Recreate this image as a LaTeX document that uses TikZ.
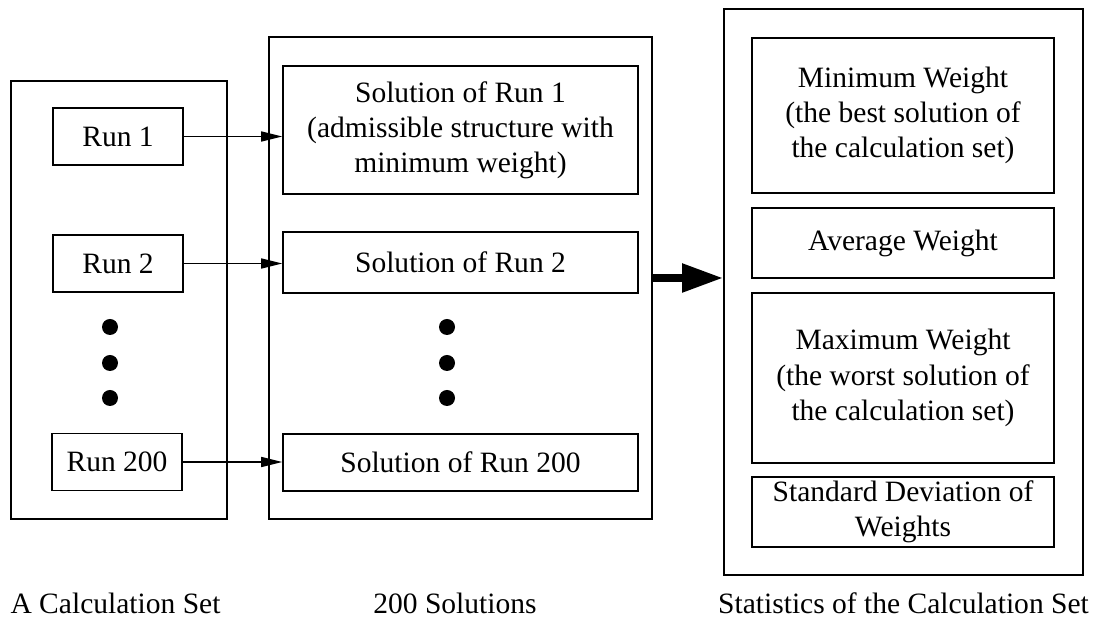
\documentclass[tikz,border=0pt]{standalone}
\usepackage{fontspec}
\setmainfont{Liberation Serif}
\usetikzlibrary{arrows.meta}

\begin{document}
\begin{tikzpicture}[
  box/.style={draw, line width=0.9pt, inner sep=0pt, align=center,
    font=\fontsize{16.8}{20}\selectfont},
  frame/.style={draw, line width=0.9pt, inner sep=0pt},
  link/.style={line width=0.9pt, -{Triangle[length=0.42cm,width=0.2cm]}},
  settext/.style={anchor=base, font=\fontsize{16.8}{20}\selectfont}
]

  \useasboundingbox (0,0) rectangle (21.96,12.42);

  % Outer frames
  \node[frame, minimum width=4.32cm, minimum height=8.76cm] (set) at (2.38,6.42) {};
  \node[frame, minimum width=7.66cm, minimum height=9.64cm] (sols) at (9.21,6.86) {};
  \node[frame, minimum width=7.18cm, minimum height=11.32cm] (stats) at (18.07,6.58) {};

  % Runs
  \node[box, minimum width=2.6cm, minimum height=1.14cm] (R1) at (2.36,9.69) {Run 1};
  \node[box, minimum width=2.6cm, minimum height=1.14cm] (R2) at (2.36,7.15) {Run 2};
  \node[box, minimum width=2.6cm, minimum height=1.14cm] (R200) at (2.34,3.18) {Run 200};

  % Solutions
  \node[box, minimum width=7.1cm, minimum height=2.56cm] (S1) at (9.21,9.82)
    {Solution of Run 1\\(admissible structure with\\minimum weight)};
  \node[box, minimum width=7.1cm, minimum height=1.22cm] (S2) at (9.21,7.17) {Solution of Run 2};
  \node[box, minimum width=7.1cm, minimum height=1.14cm] (S200) at (9.21,3.17) {Solution of Run 200};

  % Statistics
  \node[box, minimum width=6.04cm, minimum height=3.1cm] (Min) at (18.06,10.11)
    {Minimum Weight\\(the best solution of\\the calculation set)};
  \node[box, minimum width=6.04cm, minimum height=1.4cm] (Avg) at (18.06,7.56) {Average Weight};
  \node[box, minimum width=6.04cm, minimum height=3.4cm] (Max) at (18.06,4.86)
    {Maximum Weight\\(the worst solution of\\the calculation set)};
  \node[box, minimum width=6.04cm, minimum height=1.4cm] (Std) at (18.06,2.18)
    {Standard Deviation of\\Weights};

  % Dots
  \fill (2.2,5.88) circle (0.16);
  \fill (2.2,5.16) circle (0.16);
  \fill (2.2,4.46) circle (0.16);
  \fill (8.94,5.88) circle (0.16);
  \fill (8.94,5.16) circle (0.16);
  \fill (8.94,4.46) circle (0.16);

  % Arrows
  \draw[link] (R1.east) -- (R1.east -| S1.west);
  \draw[link] (R2.east) -- (R2.east -| S2.west);
  \draw[link] (R200.east) -- (R200.east -| S200.west);
  \draw[line width=4.5pt, -{Triangle[length=0.82cm,width=0.54cm]}]
    (sols.east) -- (sols.east -| stats.west);

  % Captions
  \node[settext] (capset) at (2.31,0.14) {A Calculation Set};
  \node[settext] (capsols) at (9.1,0.14) {200 Solutions};
  \node[settext] (capstats) at (18.07,0.14) {Statistics of the Calculation Set};

\end{tikzpicture}
\end{document}
